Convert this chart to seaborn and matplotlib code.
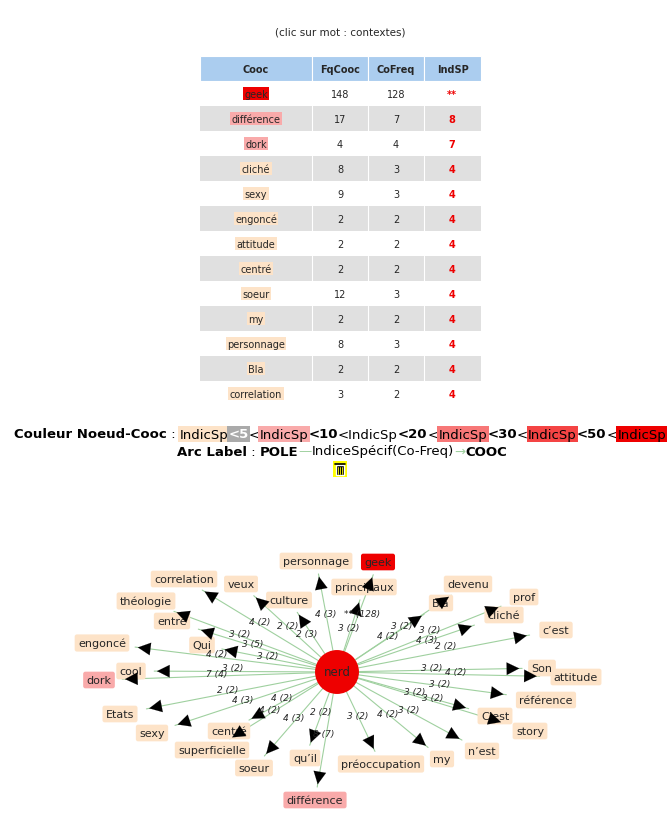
import matplotlib
matplotlib.use("Agg")
import matplotlib.pyplot as plt
import numpy as np
import seaborn as sns

sns.set_style("white")
plt.rcParams['font.family'] = ['DejaVu Sans']

# ---- table data
cooc_words = ['geek', 'différence', 'dork', 'cliché', 'sexy', 'engoncé', 'attitude',
              'centré', 'soeur', 'my', 'personnage', 'Bla', 'correlation']
fq_cooc = [148, 17, 4, 8, 9, 2, 2, 2, 12, 2, 8, 2, 3]
co_freq = [128, 7, 4, 3, 3, 2, 2, 2, 3, 2, 3, 2, 2]
ind_sp = ['**', '8', '7', '4', '4', '4', '4', '4', '4', '4', '4', '4', '4']

# ---- graph data (node, x, y, edge label, label x, label y, colour class)
nodes = ['personnage', 'geek', 'principaux', 'veux', 'correlation', 'théologie', 'culture',
         'entre', 'Qui', 'engoncé', 'cool', 'dork', 'Etats', 'sexy', 'centré',
         'superficielle', 'soeur', 'qu\u2019il', 'différence', 'préoccupation', 'my',
         'n\u2019est', 'story', 'C\u2019est', 'référence', 'attitude', 'Son', 'c\u2019est',
         'prof', 'cliché', 'devenu', 'Bla']
node_x = [316, 378, 364, 241, 184, 146, 289, 172, 202, 102, 131, 99, 120, 152, 229,
          212, 254, 305, 315, 381, 442, 482, 530, 495, 546, 576, 542, 556, 524, 504, 468, 441]
node_y = [562, 563, 588, 585, 580, 602, 601, 622, 646, 644, 672, 681, 715, 734, 732,
          751, 769, 759, 801, 765, 760, 752, 732, 717, 701, 678, 669, 631, 598, 616, 585, 604]
edge_labels = ['4 (3)', '** (128)', '3 (2)', '2 (2)', '4 (2)', '3 (2)', '2 (3)', '3 (5)',
               '3 (2)', '4 (2)', '3 (2)', '7 (4)', '2 (2)', '4 (3)', '4 (2)', '4 (2)',
               '4 (3)', '2 (2)', '8 (7)', '3 (2)', '4 (2)', '3 (2)', '3 (2)', '3 (2)',
               '3 (2)', '4 (2)', '3 (2)', '2 (2)', '3 (2)', '4 (3)', '4 (2)', '3 (2)']
label_x = [326, 362, 349, 288, 260, 240, 307, 253, 268, 217, 233, 217, 228, 243, 282,
           270, 294, 321, 324, 358, 388, 409, 433, 415, 440, 456, 432, 446, 430, 427, 388, 402]
label_y = [614, 614, 628, 626, 623, 634, 634, 644, 657, 655, 669, 675, 691, 700, 698,
           710, 718, 713, 734, 716, 714, 710, 699, 693, 684, 672, 668, 647, 631, 641, 636, 626]
node_cls = ['low'] * len(nodes)
node_cls[nodes.index('geek')] = 'top'
node_cls[nodes.index('dork')] = 'mid'
node_cls[nodes.index('différence')] = 'mid'

pole = 'nerd'
pole_x, pole_y = 337, 673

colors = {'low': '#fde3c8', 'mid': '#f9aaaa', 'top': '#ee0000'}
peach = '#fde3c8'

fig = plt.figure(figsize=(6.67, 8.29), dpi=100)
ax = fig.add_axes([0, 0, 1, 1])
ax.set_xlim(0, 667)
ax.set_ylim(829, 0)
ax.axis('off')

ax.text(340, 32, '(clic sur mot : contextes)', ha='center', va='center', fontsize=7.5)

# ---- table
col_left = [200, 312, 368, 424]
col_w = [112, 56, 56, 57]
headers = ['Cooc', 'FqCooc', 'CoFreq', 'IndSP']
row_h = 25
top = 57
for j, h in enumerate(headers):
    ax.add_patch(plt.Rectangle((col_left[j], top), col_w[j], row_h, facecolor='#abcdef',
                               edgecolor='white', lw=0.8))
    ax.text(col_left[j] + col_w[j] / 2, top + row_h / 2, h, ha='center', va='center',
            fontsize=7, fontweight='bold')
word_texts = []
for i, w in enumerate(cooc_words):
    y0 = top + row_h * (i + 1)
    bg = 'white' if i % 2 == 0 else '#e0e0e0'
    ax.add_patch(plt.Rectangle((200, y0), 281, row_h, facecolor=bg, edgecolor='none'))
    for xl in col_left[1:]:
        ax.plot([xl, xl], [y0, y0 + row_h], color='white', lw=0.8)
    cls = 'top' if i == 0 else ('mid' if i in (1, 2) else 'low')
    t = ax.text(256, y0 + row_h / 2, w, ha='center', va='center', fontsize=7,
                bbox=dict(boxstyle='square,pad=0.15', fc=colors[cls], ec='none'))
    word_texts.append(t)
    ax.text(340, y0 + row_h / 2, str(fq_cooc[i]), ha='center', va='center', fontsize=7)
    ax.text(396, y0 + row_h / 2, str(co_freq[i]), ha='center', va='center', fontsize=7)
    ax.text(452, y0 + row_h / 2, ind_sp[i], ha='center', va='center', fontsize=7,
            color='#ee0000', fontweight='bold')

# ---- legend lines
pieces1 = [('Couleur Noeud-Cooc', 'bold', None, 'black'), (' : ', 'normal', None, 'black'),
           ('IndicSp', 'normal', '#fde3c8', 'black'), ('<5', 'bold', '#aaaaaa', 'white'),
           ('<', 'normal', None, 'black'), ('IndicSp', 'normal', '#f9aaaa', 'black'),
           ('<10', 'bold', None, 'black'), ('<IndicSp', 'normal', None, 'black'),
           ('<20', 'bold', None, 'black'), ('<', 'normal', None, 'black'),
           ('IndicSp', 'normal', '#f77777', 'black'), ('<30', 'bold', None, 'black'),
           ('<', 'normal', None, 'black'), ('IndicSp', 'normal', '#f44444', 'black'),
           ('<50', 'bold', None, 'black'), ('<', 'normal', None, 'black'),
           ('IndicSp', 'normal', '#ee0000', 'black')]
pieces2 = [('Arc Label', 'bold', None, 'black'), (' : ', 'normal', None, 'black'),
           ('POLE', 'bold', None, 'black'), ('\u2014', 'normal', None, '#9fd09f'),
           ('IndiceSpécif(Co-Freq)', 'normal', None, 'black'), ('\u2192', 'normal', None, '#9fd09f'),
           ('COOC', 'bold', None, 'black')]


def chain(pieces, x, y):
    prev = None
    for s, wt, bg, c in pieces:
        kw = dict(fontsize=9.5, fontweight=wt, color=c, va='center', ha='left')
        if bg:
            kw['bbox'] = dict(boxstyle='square,pad=0.1', fc=bg, ec='none')
        if prev is None:
            prev = ax.text(x, y, s, **kw)
        else:
            prev = ax.annotate(s, xy=(1, 0.5), xycoords=prev, **kw)


chain(pieces1, 14, 435)
chain(pieces2, 177, 452)

# trash icon
ax.add_patch(plt.Rectangle((333, 462), 14, 16, facecolor='#ffff00', edgecolor='none'))
ax.add_patch(plt.Rectangle((336, 466), 8, 10, facecolor='black'))
ax.plot([335, 345], [465, 465], color='black', lw=1.2)
for xx in (338.3, 340, 341.7):
    ax.plot([xx, xx], [467.5, 474.5], color='#ffff00', lw=0.6)

# ---- graph edges
for n, x, y in zip(nodes, node_x, node_y):
    dx, dy = x - pole_x, y - pole_y
    L = np.hypot(dx, dy)
    hw = len(n) * 3.3 + 6
    hh = 9
    t = min(hw / abs(dx) if dx else 1e9, hh / abs(dy) if dy else 1e9)
    tip_x = x - dx * t - dx / L * 4
    tip_y = y - dy * t - dy / L * 4
    ax.plot([pole_x, tip_x], [pole_y, tip_y], color='#9fd09f', lw=0.8, zorder=1)
    ax.annotate('', xy=(tip_x, tip_y), xytext=(tip_x - dx / L * 14, tip_y - dy / L * 14),
                arrowprops=dict(arrowstyle='-|>,head_length=0.9,head_width=0.45',
                                color='black', lw=0.1), zorder=3)

for s, x, y in zip(edge_labels, label_x, label_y):
    ax.text(x, y, s, fontsize=6.5, style='italic', ha='center', va='center', zorder=4)

for n, x, y, c in zip(nodes, node_x, node_y, node_cls):
    ax.text(x, y, n, fontsize=8, ha='center', va='center', zorder=2,
            bbox=dict(boxstyle='round,pad=0.3,rounding_size=0.2', fc=colors[c], ec='none'))

sns.scatterplot(x=[pole_x], y=[pole_y], s=1000, color='#ee0000', edgecolor='none',
                ax=ax, zorder=5, legend=False)
ax.text(pole_x, pole_y, pole, fontsize=8.5, ha='center', va='center', zorder=6)
ax.set_xlim(0, 667)
ax.set_ylim(829, 0)

# underline words in table
fig.canvas.draw()
inv = ax.transData.inverted()
for t in word_texts:
    bb = t.get_window_extent()
    (x0, y0), (x1, y1) = inv.transform([[bb.x0, bb.y0], [bb.x1, bb.y1]])
    ax.plot([x0, x1], [y0 + 0.5, y0 + 0.5], color='black', lw=0.6)

fig.savefig('out.png', dpi=100)
